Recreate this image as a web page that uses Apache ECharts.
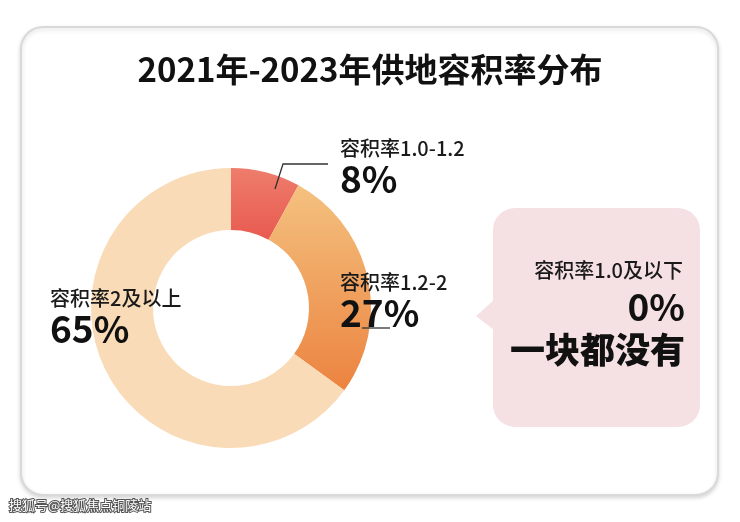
<!DOCTYPE html>
<html><head><meta charset="utf-8">
<script src="https://cdn.jsdelivr.net/npm/echarts@6/dist/echarts.min.js"></script>
<style>html,body{margin:0;background:#fff}#c{width:740px;height:522px}</style>
</head><body><div id="c"></div>
<script>
const categories = ['容积率1.0-1.2', '容积率1.2-2', '容积率2及以上'];
const values = [8, 27, 65];
const noneLabel = '容积率1.0及以下';
const noneValue = 0;
const F = '"Noto Sans CJK SC", sans-serif';
const chart = echarts.init(document.getElementById('c'));
const lg = (a,b)=>new echarts.graphic.LinearGradient(0,0,0,1,[{offset:0,color:a},{offset:1,color:b}]);
const colors = [lg('#ee7d6c','#e85a50'), lg('#f4c17f','#ec8340'), '#f9dcb7'];
function lbl(x,y,name,val){
  return [
    {type:'text',z:100,left:x,top:y,style:{text:name,font:'500 20px '+F,fill:'#1a1a1a'}},
    {type:'text',z:100,left:x,top:y+22,style:{text:val+'%',font:'bold 37px '+F,fill:'#111'}}
  ];
}
chart.setOption({
  title:{text:'2021年-2023年供地容积率分布',left:'center',top:48,textStyle:{fontFamily:F,fontSize:33,fontWeight:'bold',color:'#111'}},
  graphic:[
    {type:'rect',z:-10,shape:{x:21,y:27,width:697,height:468,r:22},style:{fill:'#fff',stroke:'#d9d9d9',lineWidth:2,shadowColor:'rgba(0,0,0,0.15)',shadowBlur:4,shadowOffsetY:2}},
    {type:'rect',shape:{x:493,y:208,width:207,height:219,r:22},style:{fill:'#f5e1e4'}},
    {type:'polygon',shape:{points:[[494,300],[476,316],[494,330]]},style:{fill:'#f5e1e4'}},
    {type:'text',z:100,right:57,top:260,style:{text:noneLabel,font:'500 20px '+F,fill:'#1a1a1a'}},
    {type:'text',z:100,right:55,top:288,style:{text:noneValue+'%',font:'bold 37px '+F,fill:'#111'}},
    {type:'text',z:100,right:55,top:332,style:{text:'一块都没有',font:'900 35px '+F,fill:'#111'}},
    {type:'polyline',z:100,shape:{points:[[275,189],[283,164],[328,164]]},style:{stroke:'#333',lineWidth:1.3}},
    {type:'line',z:100,shape:{x1:362,y1:328,x2:390,y2:328},style:{stroke:'#333',lineWidth:1.3}},
    ...lbl(340,138,categories[0],values[0]),
    ...lbl(340,272,categories[1],values[1]),
    ...lbl(50,288,categories[2],values[2]),
    {type:'text',z:100,left:8,top:498,style:{text:'搜狐号@搜狐焦点铜陵站',font:'13px '+F,fill:'#fff',stroke:'#555',lineWidth:2}}
  ],
  series:[{type:'pie',center:[231,308],radius:[78,140],startAngle:90,clockwise:true,silent:true,z:2,
    label:{show:false},labelLine:{show:false},
    data:categories.map((n,i)=>({name:n,value:values[i],itemStyle:{color:colors[i]}}))}]
});
</script></body></html>
